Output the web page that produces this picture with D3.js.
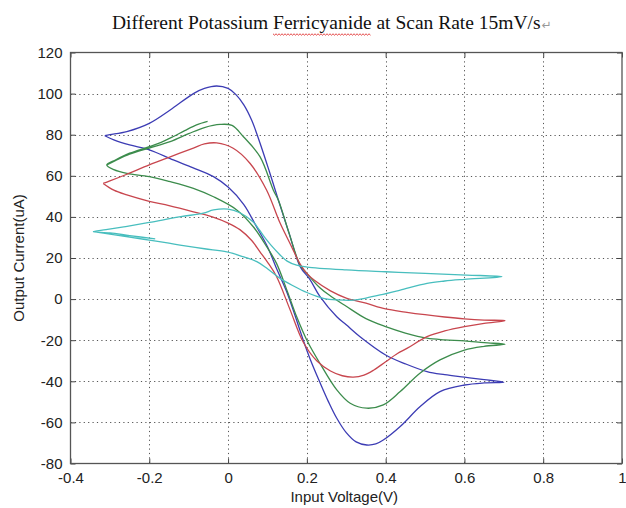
<!DOCTYPE html>
<html>
<head>
<meta charset="utf-8">
<script src="https://cdn.jsdelivr.net/npm/d3@7/dist/d3.min.js"></script>
<style>
  html, body { margin: 0; padding: 0; background: #ffffff; }
  svg { display: block; }
</style>
</head>
<body>
<svg id="chart" width="626" height="508"></svg>
<script>
// ---------------- DATA ----------------
const titleText = "Different Potassium Ferricyanide at Scan Rate 15mV/s";
const xLabel = "Input Voltage(V)";
const yLabel = "Output Current(uA)";
const xTicks = [-0.4, -0.2, 0, 0.2, 0.4, 0.6, 0.8, 1];
const xTickLabels = ["-0.4", "-0.2", "0", "0.2", "0.4", "0.6", "0.8", "1"];
const yTicks = [-80, -60, -40, -20, 0, 20, 40, 60, 80, 100, 120];
const yTickLabels = ["-80", "-60", "-40", "-20", "0", "20", "40", "60", "80", "100", "120"];

// Each loop: [voltage (V), current (uA)] in scan order
const blueLoop = [
  [-0.313, 79.5], [-0.29, 77.5], [-0.25, 75], [-0.2, 72.6], [-0.139, 67.7], [-0.09, 64],
  [-0.037, 59.6], [0.0, 54.5], [0.04, 46], [0.07, 36], [0.1, 25.5], [0.125, 14], [0.15, 3],
  [0.17, -8], [0.19, -19.5], [0.21, -30], [0.233, -40.5], [0.255, -50], [0.276, -58],
  [0.3, -65], [0.325, -69.5], [0.352, -71], [0.375, -70.5], [0.394, -68.6], [0.437, -62],
  [0.487, -52.4], [0.538, -45], [0.6, -41.8], [0.65, -40.8], [0.70, -40.5],
  [0.65, -39.2], [0.6, -38], [0.55, -36.8], [0.505, -35.3], [0.45, -31.5], [0.4, -27.2],
  [0.335, -18.3], [0.3, -12.5], [0.276, -8.6], [0.233, 1.3], [0.208, 9.5], [0.183, 15.8],
  [0.155, 32], [0.128, 48], [0.105, 62], [0.081, 76], [0.06, 87], [0.04, 94.5], [0.02, 99.5],
  [0.0, 102.5], [-0.029, 103.7], [-0.06, 102.5], [-0.088, 100], [-0.147, 92], [-0.2, 85.5],
  [-0.257, 81.5], [-0.3, 80], [-0.313, 79.5]
];
const greenLoop = [
  [-0.052, 86.5], [-0.08, 84.8], [-0.11, 82], [-0.14, 79], [-0.17, 76.3], [-0.2, 74.2],
  [-0.25, 71], [-0.285, 67.8], [-0.308, 65.3],
  [-0.29, 63], [-0.257, 61.2], [-0.2, 59.6], [-0.15, 57.3], [-0.088, 53.9], [-0.037, 49.8],
  [0.022, 43.4], [0.064, 35.2], [0.098, 25.5], [0.123, 17.4], [0.15, 4], [0.175, -9], [0.2, -20],
  [0.233, -31.2], [0.276, -44.2], [0.31, -50.7], [0.352, -53.1], [0.394, -51.5], [0.437, -45],
  [0.487, -36.1], [0.538, -29.6], [0.6, -24.8], [0.65, -23], [0.703, -22],
  [0.65, -21.2], [0.6, -20.3], [0.55, -19.8], [0.505, -19], [0.45, -16.5], [0.4, -13.4],
  [0.35, -9.5], [0.3, -3.5], [0.26, 1.5], [0.233, 5.5], [0.2, 12.5], [0.183, 16.5],
  [0.155, 32], [0.128, 48], [0.115, 53], [0.081, 69.3], [0.039, 79], [0.01, 84.5], [-0.02, 85],
  [-0.06, 83.5], [-0.1, 80.5], [-0.147, 76.6], [-0.2, 73.5], [-0.25, 70.5], [-0.285, 67.5],
  [-0.308, 65.3]
];
const redLoop = [
  [-0.317, 56.3], [-0.29, 53], [-0.257, 50.7], [-0.2, 47.6], [-0.15, 45.5], [-0.088, 42.5],
  [-0.04, 40], [0.0, 37], [0.03, 33.8], [0.06, 28.5], [0.081, 23], [0.1, 18], [0.123, 11],
  [0.157, -5], [0.191, -21], [0.225, -30], [0.26, -35], [0.29, -37.3], [0.318, -38],
  [0.345, -37], [0.37, -34.5], [0.4, -30.5], [0.43, -26.5], [0.454, -24], [0.505, -18.3],
  [0.55, -15.5], [0.6, -13.4], [0.65, -11.8], [0.703, -10.5],
  [0.65, -10.2], [0.6, -9.6], [0.55, -8.7], [0.5, -7.6], [0.45, -6.3], [0.4, -4.8],
  [0.35, -2], [0.3, 0.5], [0.26, 4], [0.22, 9], [0.2, 12.5], [0.183, 17], [0.16, 26],
  [0.132, 37], [0.098, 53], [0.056, 66], [0.013, 73.4], [-0.029, 76], [-0.06, 75.5],
  [-0.088, 73.5], [-0.15, 69], [-0.2, 65.3], [-0.26, 60.5], [-0.3, 57.5], [-0.317, 56.3]
];
const cyanLoop = [
  [-0.342, 32.8], [-0.3, 31.6], [-0.25, 30.2], [-0.2, 28.7], [-0.15, 27.2], [-0.122, 26.3],
  [-0.06, 24.5], [-0.003, 23], [0.04, 20.5], [0.073, 18.2], [0.1, 14.8], [0.132, 10.1],
  [0.165, 6.5], [0.2, 3.2], [0.242, 0.4], [0.28, -0.4], [0.318, -0.5], [0.35, 0.5],
  [0.386, 2], [0.437, 4.4], [0.505, 7.7], [0.55, 8.8], [0.6, 9.6], [0.695, 10.9],
  [0.606, 11.7], [0.5, 12.5], [0.4, 13.3], [0.3, 14.2], [0.2, 15.6], [0.174, 16.5],
  [0.15, 18.5], [0.132, 21.5], [0.11, 26], [0.098, 28.8], [0.08, 33.5], [0.064, 37.5],
  [0.03, 42], [0.0, 43.8], [-0.037, 43.4], [-0.063, 41.8], [-0.12, 40.1], [-0.2, 37.3],
  [-0.26, 35.3], [-0.31, 33.8], [-0.342, 32.8],
  [-0.3, 32.2], [-0.25, 30.9], [-0.185, 29.3]
];
const seriesNames = ["blue", "green", "red", "cyan"];
const seriesColors = ["#3c3cb4", "#3c8c4c", "#c8464e", "#48bebe"];
const seriesData = [blueLoop, greenLoop, redLoop, cyanLoop];

// ---------------- LAYOUT ----------------
const svg = d3.select("#chart");
const L = 70.5, R = 622, T = 52.5, B = 463.5;
const x = d3.scaleLinear().domain([-0.4, 1]).range([L, R]);
const y = d3.scaleLinear().domain([-80, 120]).range([B, T]);

// grid (dotted)
const grid = svg.append("g").attr("stroke", "#555").attr("stroke-width", 1)
  .attr("stroke-dasharray", "1.2,3.2");
grid.selectAll("line.vx").data(xTicks.filter(d => d > -0.4 && d < 1)).enter().append("line")
  .attr("x1", d => Math.round(x(d)) + 0.5).attr("x2", d => Math.round(x(d)) + 0.5)
  .attr("y1", T).attr("y2", B);
grid.selectAll("line.hy").data(yTicks.filter(d => d > -80 && d < 120)).enter().append("line")
  .attr("y1", d => Math.round(y(d)) + 0.5).attr("y2", d => Math.round(y(d)) + 0.5)
  .attr("x1", L).attr("x2", R);

// lines
const line = d3.line().x(d => x(d[0])).y(d => y(d[1])).curve(d3.curveCatmullRom.alpha(0.5));
svg.append("g").selectAll("path").data(seriesData).enter().append("path")
  .attr("d", line)
  .attr("fill", "none")
  .attr("stroke", (d, i) => seriesColors[i])
  .attr("stroke-width", 1.3)
  .attr("stroke-linejoin", "round");

// axes
const tickFont = "'Liberation Sans', Arial, sans-serif";
function styleAxis(g) {
  g.select(".domain").remove();
  g.selectAll(".tick line").attr("stroke", "#444").attr("stroke-width", 1);
  g.selectAll(".tick text").attr("fill", "#222").style("font-family", tickFont).style("font-size", "15px");
}
const xAxis = d3.axisBottom(x).tickValues(xTicks).tickFormat((d, i) => xTickLabels[i])
  .tickSize(-5).tickPadding(9);
svg.append("g").attr("transform", `translate(0,${B})`).call(xAxis).call(styleAxis);
const xAxisTop = d3.axisTop(x).tickValues(xTicks).tickFormat("").tickSize(-5);
svg.append("g").attr("transform", `translate(0,${T})`).call(xAxisTop).call(styleAxis);
const yAxis = d3.axisLeft(y).tickValues(yTicks).tickFormat((d, i) => yTickLabels[i])
  .tickSize(-5).tickPadding(8);
svg.append("g").attr("transform", `translate(${L},0)`).call(yAxis).call(styleAxis);
const yAxisRight = d3.axisRight(y).tickValues(yTicks).tickFormat("").tickSize(-5);
svg.append("g").attr("transform", `translate(${R},0)`).call(yAxisRight).call(styleAxis);

// box
svg.append("rect").attr("x", L).attr("y", T).attr("width", R - L).attr("height", B - T)
  .attr("fill", "none").attr("stroke", "#555").attr("stroke-width", 1.3);

// axis titles
svg.append("text").attr("x", (L + R) / 2 - 2).attr("y", 502).attr("text-anchor", "middle")
  .style("font-family", tickFont).style("font-size", "15px").attr("fill", "#222").text(xLabel);
svg.append("text").attr("transform", `translate(24,${(T + B) / 2}) rotate(-90)`)
  .attr("text-anchor", "middle")
  .style("font-family", tickFont).style("font-size", "15px").attr("fill", "#222").text(yLabel);

// title
const title = svg.append("text").attr("x", 112).attr("y", 29)
  .style("font-family", "'Liberation Serif', 'Times New Roman', serif").style("font-size", "19.5px")
  .attr("fill", "#111");
title.append("tspan").text(titleText);
title.append("tspan").attr("fill", "#999").style("font-size", "12px").attr("dx", 1)
  .style("font-family", "'DejaVu Sans', sans-serif").text("\u21B5");

// spell-check wavy underline under "Ferricyanide"
const tnode = title.select("tspan").node();
const start = titleText.indexOf("Ferricyanide");
const sx = tnode.getStartPositionOfChar(start).x;
const ex = tnode.getEndPositionOfChar(start + "Ferricyanide".length - 1).x;
const wavePts = [];
for (let px = sx, k = 0; px <= ex; px += 1.5, k++) wavePts.push([px, 34 + (k % 2 ? 1.2 : -0.2)]);
svg.append("path").attr("d", d3.line()(wavePts)).attr("fill", "none")
  .attr("stroke", "#e03030").attr("stroke-width", 0.9);
</script>
</body>
</html>
